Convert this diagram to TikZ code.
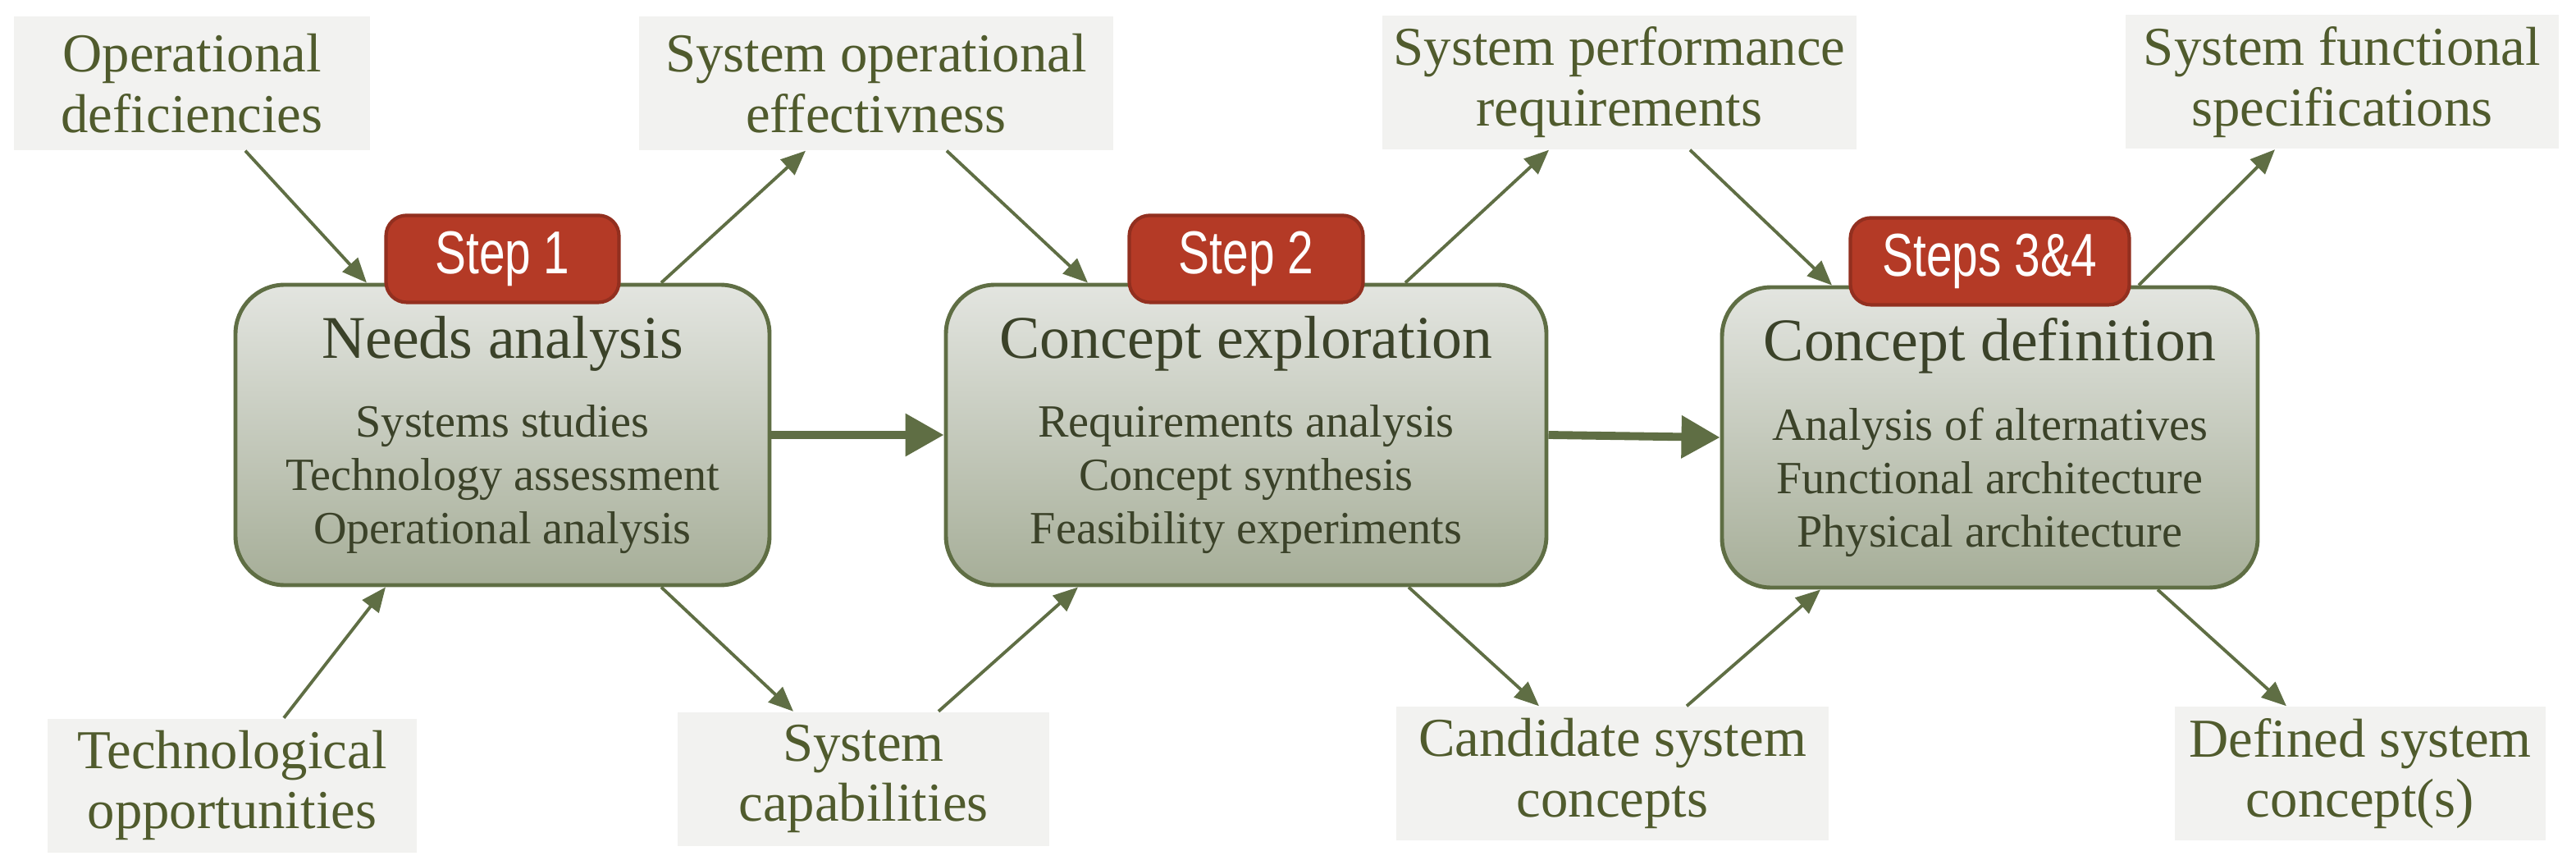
\documentclass[tikz,border=0pt]{standalone}
\usepackage{fontspec}
\setmainfont{Liberation Serif}
\newfontfamily\tagfont{Liberation Sans}[FakeStretch=0.77]
\usetikzlibrary{positioning,arrows.meta}
\definecolor{sysolive}{RGB}{95,110,68}
\definecolor{sysink}{RGB}{59,66,41}
\definecolor{systext}{RGB}{80,91,45}
\definecolor{sysred}{RGB}{180,58,38}
\definecolor{sysredline}{RGB}{146,47,31}
\definecolor{syspaper}{RGB}{242,242,240}
\definecolor{systop}{RGB}{227,229,224}
\definecolor{sysbottom}{RGB}{166,174,152}
\newcommand\phtitle[1]{{\fontsize{21}{24}\selectfont #1}\\[9pt]}

\begin{document}
\begin{tikzpicture}[
  phase/.style={draw=sysolive, line width=1.4pt, rounded corners=0.6cm, top color=systop, bottom color=sysbottom, minimum height=3.66cm, align=center, text=sysink, font=\fontsize{16}{18.5}\selectfont},
  steptag/.style={draw=sysredline, line width=1.2pt, fill=sysred, rounded corners=0.25cm, minimum height=1.06cm, inner sep=0pt, text=white, font=\tagfont\fontsize{21}{24}\selectfont},
  io/.style={fill=syspaper, minimum height=1.63cm, align=center, text=systext, font=\fontsize{19}{21}\selectfont},
  flow/.style={-{Triangle[length=0.3cm, width=0.25cm]}, sysolive, line width=1.1pt},
  bigflow/.style={-{Triangle[length=0.47cm, width=0.5cm]}, sysolive, line width=2.8pt},
]
\useasboundingbox (0,0) rectangle (31.40,10.53);

% phases
\node[phase, minimum width=6.51cm] (na) at (6.125,5.23) {\phtitle{Needs analysis}Systems studies\\Technology assessment\\Operational analysis};
\node[phase, minimum width=7.32cm] (ce) at (15.19,5.23) {\phtitle{Concept exploration}Requirements analysis\\Concept synthesis\\Feasibility experiments};
\node[phase, minimum width=6.53cm] (cd) at (24.255,5.20) {\phtitle{Concept definition}Analysis of alternatives\\Functional architecture\\Physical architecture};
\node[steptag, minimum width=2.84cm, above=-0.26cm of na.north] (s1) {Step 1};
\node[steptag, minimum width=2.85cm, above=-0.26cm of ce.north] (s2) {Step 2};
\node[steptag, minimum width=3.40cm, above=-0.26cm of cd.north] (s34) {Steps 3\&4};

% inputs and outputs
\node[io, minimum width=4.34cm] (od) at (2.34,9.515) {Operational\\deficiencies};
\node[io, minimum width=5.78cm] (soe) at (10.68,9.515) {System operational\\effectivness};
\node[io, minimum width=5.78cm] (spr) at (19.74,9.525) {System performance\\requirements};
\node[io, minimum width=5.28cm] (sfs) at (28.55,9.53) {System functional\\specifications};
\node[io, minimum width=4.50cm] (to) at (2.83,0.96) {Technological\\opportunities};
\node[io, minimum width=4.53cm] (sc) at (10.525,1.04) {System\\capabilities};
\node[io, minimum width=5.27cm] (csc) at (19.655,1.105) {Candidate system\\concepts};
\node[io, minimum width=4.52cm] (dsc) at (28.77,1.105) {Defined system\\concept(s)};

\draw[bigflow] (na.east) -- (ce.west);
\draw[bigflow] (ce.east) -- (cd.west);

\draw[flow] ([xshift=0.65cm]od.south) -- ([xshift=-1.655cm]na.north);
\draw[flow] ([xshift=1.935cm]na.north) -- ([xshift=-0.86cm]soe.south);
\draw[flow] ([xshift=0.86cm]soe.south) -- ([xshift=-1.93cm]ce.north);
\draw[flow] ([xshift=1.94cm]ce.north) -- ([xshift=-0.86cm]spr.south);
\draw[flow] ([xshift=0.86cm]spr.south) -- ([xshift=-1.925cm]cd.north);
\draw[flow] ([xshift=1.815cm]cd.north) -- ([xshift=-0.82cm]sfs.south);
\draw[flow] ([xshift=0.63cm]to.north) -- ([xshift=-1.425cm]na.south);
\draw[flow] ([xshift=1.935cm]na.south) -- ([xshift=-0.855cm]sc.north);
\draw[flow] ([xshift=0.915cm]sc.north) -- ([xshift=-2.05cm]ce.south);
\draw[flow] ([xshift=1.98cm]ce.south) -- ([xshift=-0.895cm]csc.north);
\draw[flow] ([xshift=0.905cm]csc.north) -- ([xshift=-2.065cm]cd.south);
\draw[flow] ([xshift=2.045cm]cd.south) -- ([xshift=-0.9cm]dsc.north);
\end{tikzpicture}
\end{document}
